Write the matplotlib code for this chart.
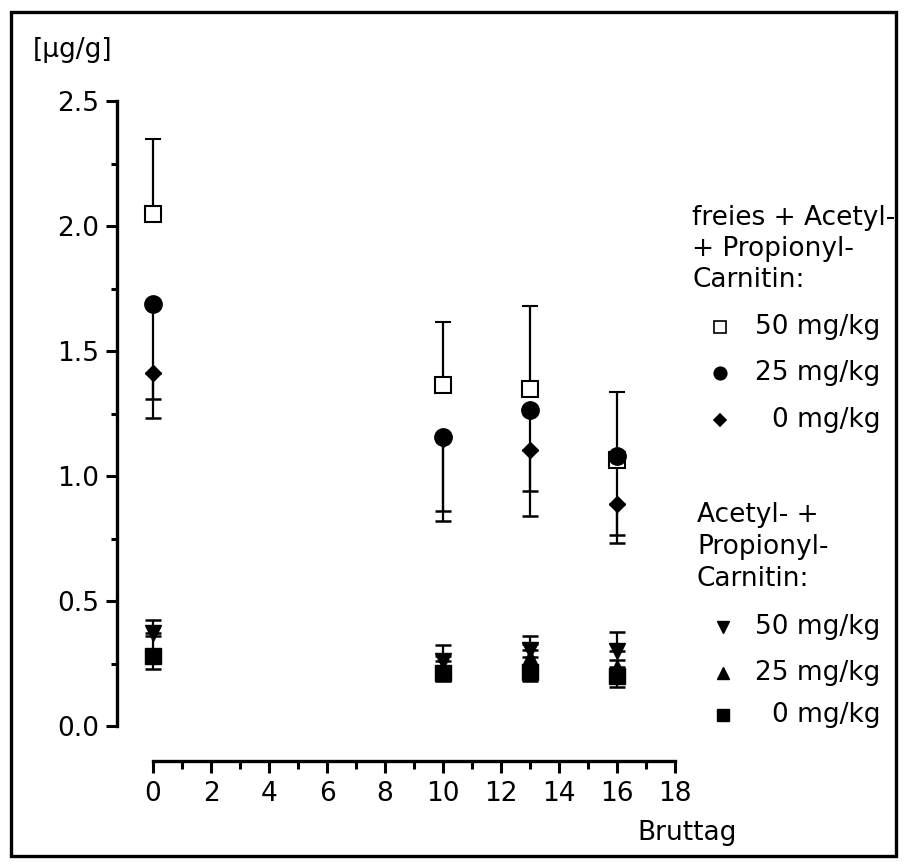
import numpy as np
import matplotlib
matplotlib.use("Agg")
import matplotlib.pyplot as plt
from matplotlib.lines import Line2D
from matplotlib.patches import Rectangle
from matplotlib.ticker import FixedLocator

# Bruttag (days of incubation)
days = [0, 10, 13, 16]

# freies + Acetyl- + Propionyl-Carnitin [µg/g]
tot_50 = [2.05, 1.365, 1.35, 1.065]
tot_50_sd = [0.30, 0.25, 0.33, 0.27]      # drawn upward
tot_25 = [1.687, 1.156, 1.264, 1.08]
tot_25_sd = [0.379, 0.295, 0.323, 0.316]  # drawn downward
tot_0 = [1.411, 1.15, 1.104, 0.888]
tot_0_sd = [0.179, 0.329, 0.263, 0.155]   # drawn downward

# Acetyl- + Propionyl-Carnitin [µg/g]
acy_50 = [0.371, 0.26, 0.304, 0.30]
acy_50_sd = [0.053, 0.066, 0.058, 0.077]  # upward
acy_25 = [0.28, 0.225, 0.276, 0.237]
acy_25_sd = [0.08, 0.055, 0.054, 0.027]   # upward
acy_0 = [0.28, 0.212, 0.216, 0.202]
acy_0_sd = [0.053, 0.032, 0.036, 0.045]   # downward

y_ticks = [0.0, 0.5, 1.0, 1.5, 2.0, 2.5]
y_minor = [0.25, 0.75, 1.25, 1.75, 2.25]
x_ticks = [0, 2, 4, 6, 8, 10, 12, 14, 16, 18]
x_minor = [1, 3, 5, 7, 9, 11, 13, 15, 17]

plt.rcParams['font.family'] = ['DejaVu Sans']
FS = 19

W, H = 905, 866
fig = plt.figure(figsize=(W / 100, H / 100), dpi=100)


def px(x, y):
    return x / W, 1 - y / H


# axes box in pixels: left 117, right 675, top 101, bottom 761
ax = fig.add_axes([117 / W, 1 - 761 / H, (675 - 117) / W, (761 - 101) / H])
ax.set_xlim(-36 / 29, 18)
ax.set_ylim(-0.14, 2.5)

zero = [0, 0, 0, 0]
eb = dict(color='black', elinewidth=1.6, capsize=6, capthick=1.8, linestyle='none', clip_on=False)

ax.errorbar(days, tot_0, yerr=[tot_0_sd, zero], marker='D', ms=8, mfc='black', mec='black', **eb)
ax.errorbar(days, tot_50, yerr=[zero, tot_50_sd], marker='s', ms=11.5, mfc='white', mec='black', mew=1.5, **eb)
ax.errorbar(days, tot_25, yerr=[tot_25_sd, zero], marker='o', ms=12.5, mfc='black', mec='black', **eb)

ax.errorbar(days, acy_25, yerr=[zero, acy_25_sd], marker='^', ms=10.5, mfc='black', mec='black', **eb)
ax.errorbar(days, acy_50, yerr=[zero, acy_50_sd], marker='v', ms=11, mfc='black', mec='black', **eb)
ax.errorbar(days, acy_0, yerr=[acy_0_sd, zero], marker='s', ms=11.5, mfc='black', mec='black', **eb)

for s in ['top', 'right']:
    ax.spines[s].set_visible(False)
ax.spines['left'].set_bounds(0, 2.5)
ax.spines['bottom'].set_bounds(0, 18)
for s in ['left', 'bottom']:
    ax.spines[s].set_linewidth(2.4)

ax.set_yticks(y_ticks)
ax.set_yticklabels([f"{v:.1f}" for v in y_ticks])
ax.yaxis.set_minor_locator(FixedLocator(y_minor))
ax.set_xticks(x_ticks)
ax.xaxis.set_minor_locator(FixedLocator(x_minor))
ax.tick_params(axis='y', which='major', length=8, width=2.2, pad=5, labelsize=FS)
ax.tick_params(axis='y', which='minor', length=4.5, width=2.2)
ax.tick_params(axis='x', which='major', length=8.5, width=2.2, pad=6, labelsize=FS)
ax.tick_params(axis='x', which='minor', length=5.5, width=2.2)
ax.patch.set_visible(False)

fig.text(*px(33, 50), "[µg/g]", fontsize=FS, ha='left', va='center')
fig.text(*px(737, 833), "Bruttag", fontsize=FS, ha='right', va='center')

# legend, group 1
for i, line in enumerate(["freies + Acetyl-", "+ Propionyl-", "Carnitin:"]):
    fig.text(*px(692, 218 + 31 * i), line, fontsize=FS, ha='left', va='center')
leg1 = [('s', 8.5, 'white', "50 mg/kg", 327), ('o', 9, 'black', "25 mg/kg", 373), ('D', 6, 'black', "0 mg/kg", 420)]
for mk, ms, fc, lab, y in leg1:
    fig.add_artist(Line2D([px(720, y)[0]], [px(720, y)[1]], marker=mk, ms=ms, mfc=fc, mec='black',
                          mew=1.2, linestyle='none', transform=fig.transFigure))
    fig.text(*px(880, y), lab, fontsize=FS, ha='right', va='center')

# legend, group 2
for i, line in enumerate(["Acetyl- +", "Propionyl-", "Carnitin:"]):
    fig.text(*px(697, 515 + 32 * i), line, fontsize=FS, ha='left', va='center')
leg2 = [('v', 8.5, "50 mg/kg", 627), ('^', 8.5, "25 mg/kg", 673), ('s', 8.5, "0 mg/kg", 715)]
for mk, ms, lab, y in leg2:
    fig.add_artist(Line2D([px(723, y)[0]], [px(723, y)[1]], marker=mk, ms=ms, mfc='black', mec='black',
                          linestyle='none', transform=fig.transFigure))
    fig.text(*px(880, y), lab, fontsize=FS, ha='right', va='center')

# outer frame
fig.add_artist(Rectangle(px(11, 856), (896 - 11) / W, (856 - 12) / H, transform=fig.transFigure,
                         fill=False, edgecolor='black', linewidth=2.4))

fig.savefig("out.png", dpi=100)
